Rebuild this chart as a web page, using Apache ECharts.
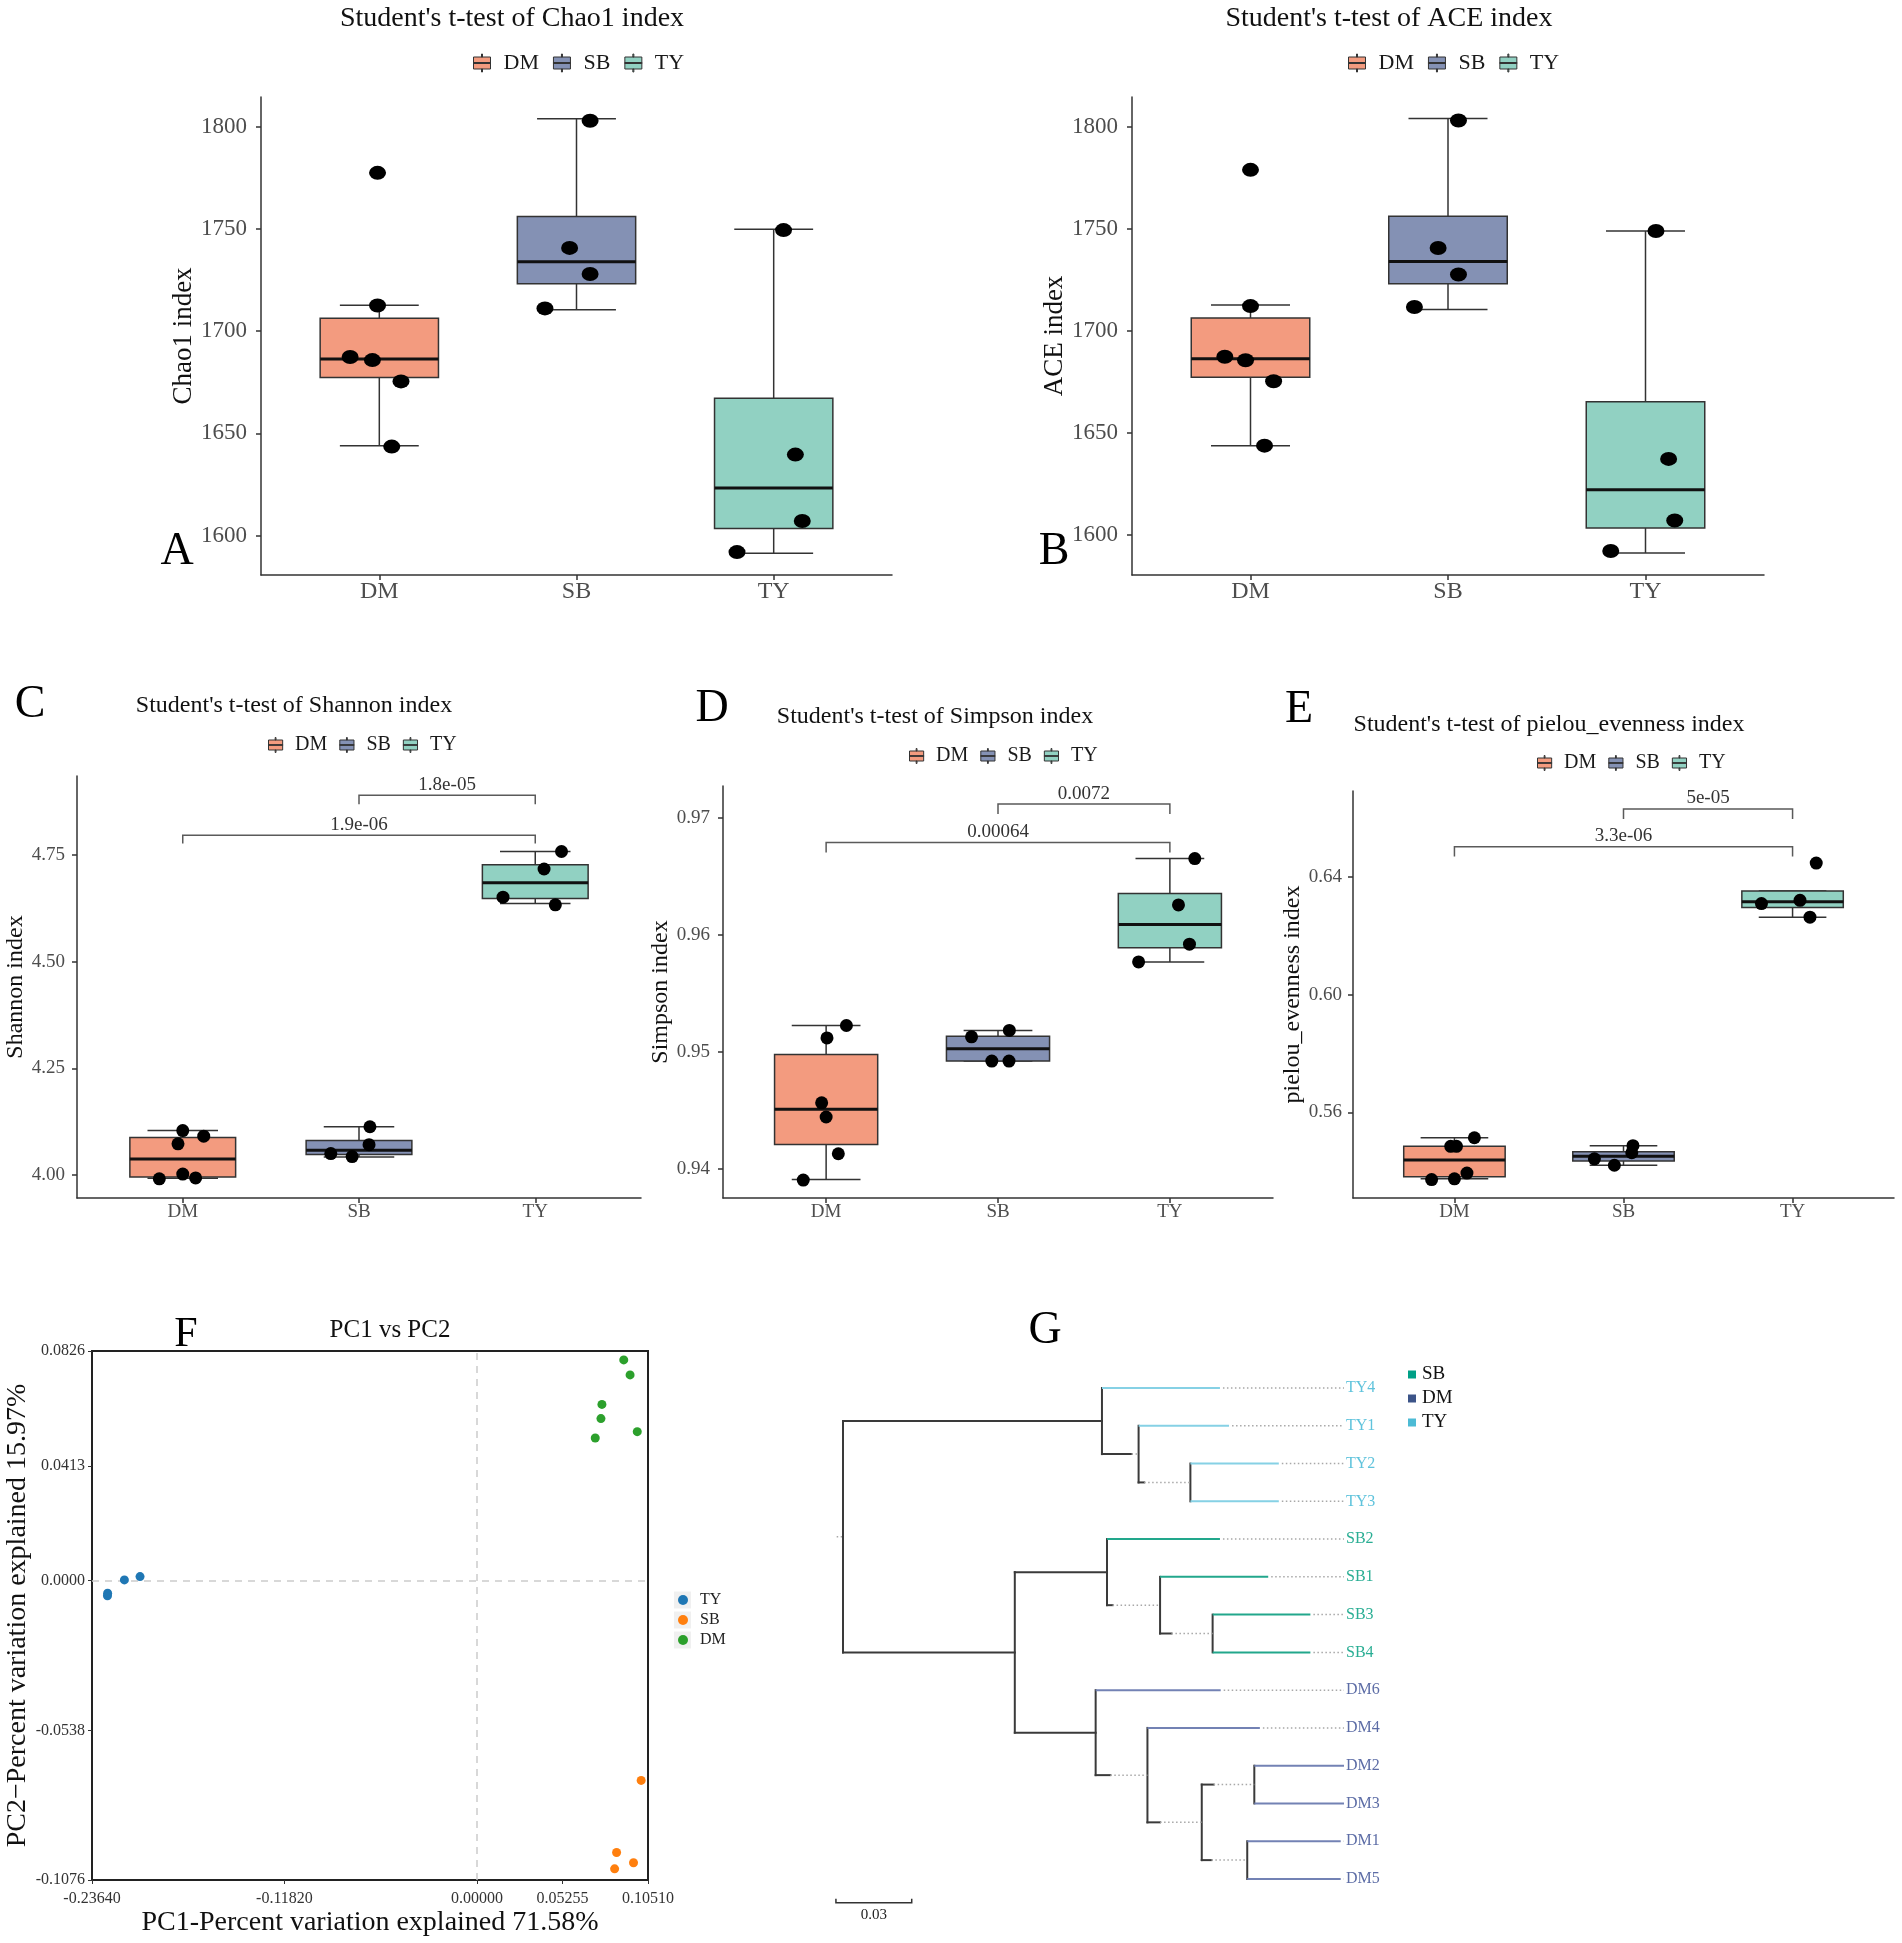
<!DOCTYPE html>
<html><head><meta charset="utf-8">
<script src="https://cdn.jsdelivr.net/npm/echarts@6/dist/echarts.min.js"></script>
<style>html,body{margin:0;padding:0;background:#fff}#chart{width:1902px;height:1943px}</style>
</head><body><div id="chart"></div>
<script>
// ---------------- DATA ----------------
const groups = ['DM', 'SB', 'TY'];
const boxColors = ['#F39B7F', '#8491B4', '#91D1C2'];

// A: Chao1  (box = [lowWhisker, Q1, median, Q3, highWhisker])
const chao1Boxes = [[1643.9, 1677.3, 1686.4, 1706.3, 1712.7], [1710.5, 1723.1, 1733.9, 1756.1, 1803.9], [1591.3, 1603.5, 1623.2, 1667.1, 1749.8]];
const chao1Points = [[1777.4, 1712.5, 1687.3, 1685.8, 1675.4, 1643.5], [1802.9, 1740.7, 1727.9, 1711.1], [1749.4, 1639.6, 1607.1, 1591.9]];
const chao1Jitter = [[-0.009, -0.009, -0.148, -0.035, 0.11, 0.063], [0.069, -0.035, 0.069, -0.16], [0.05, 0.11, 0.145, -0.186]];
const chao1Ticks = [1600, 1650, 1700, 1750, 1800];

// B: ACE
const aceBoxes = [[1643.9, 1677.4, 1686.5, 1706.5, 1712.9], [1710.7, 1723.3, 1734.2, 1756.4, 1804.3], [1591.3, 1603.5, 1622.3, 1665.4, 1749.1]];
const acePoints = [[1779.1, 1712.3, 1687.5, 1685.8, 1675.5, 1643.9], [1803.3, 1740.8, 1727.8, 1711.9], [1749.1, 1637.4, 1607.2, 1592.3]];
const aceJitter = [[0, 0, -0.13, -0.025, 0.117, 0.071], [0.053, -0.05, 0.053, -0.17], [0.053, 0.117, 0.148, -0.176]];
const aceTicks = [1600, 1650, 1700, 1750, 1800];

// C: Shannon
const shannonBoxes = [[3.992, 3.995, 4.0375, 4.0876, 4.104], [4.042, 4.048, 4.058, 4.081, 4.113], [4.636, 4.648, 4.685, 4.727, 4.758]];
const shannonPoints = [[4.104, 4.073, 4.091, 3.991, 4.002, 3.993], [4.113, 4.071, 4.050, 4.043], [4.758, 4.717, 4.651, 4.633]];
const shannonJitter = [[0, -0.027, 0.119, -0.133, 0, 0.073], [0.062, 0.057, -0.16, -0.039], [0.149, 0.05, -0.183, 0.114]];
const shannonTicks = [4.00, 4.25, 4.50, 4.75];
const shannonBrackets = [[2, 3, 4.890, 4.869], [1, 3, 4.796, 4.777]];
const shannonPvals = ['1.8e-05', '1.9e-06'];

// D: Simpson
const simpsonBoxes = [[0.93909, 0.94207, 0.94509, 0.94975, 0.95224], [0.9492, 0.9492, 0.95026, 0.95133, 0.95182], [0.95767, 0.95888, 0.96086, 0.96351, 0.9665]];
const simpsonPoints = [[0.95224, 0.95118, 0.94563, 0.94442, 0.94128, 0.93903], [0.95182, 0.95127, 0.9492, 0.9492], [0.9665, 0.96254, 0.95919, 0.95767]];
const simpsonJitter = [[0.118, 0.005, -0.026, 0, 0.071, -0.133], [0.066, -0.154, -0.036, 0.064], [0.145, 0.05, 0.114, -0.182]];
const simpsonTicks = [0.94, 0.95, 0.96, 0.97];
const simpsonBrackets = [[2, 3, 0.97116, 0.9703], [1, 3, 0.96787, 0.96702]];
const simpsonPvals = ['0.0072', '0.00064'];

// E: pielou evenness
const pielouBoxes = [[0.53742, 0.53815, 0.54385, 0.54847, 0.55138], [0.54203, 0.54349, 0.54507, 0.54665, 0.54871], [0.62641, 0.62969, 0.63163, 0.63527, 0.63527]];
const pielouPoints = [[0.55138, 0.54847, 0.54847, 0.53936, 0.53718, 0.53742], [0.54871, 0.54628, 0.54422, 0.54203], [0.6448, 0.63212, 0.63103, 0.62641]];
const pielouJitter = [[0.118, -0.022, 0.012, 0.074, -0.135, 0], [0.056, 0.049, -0.172, -0.054], [0.14, 0.044, -0.184, 0.103]];
const pielouTicks = [0.56, 0.60, 0.64];
const pielouBrackets = [[2, 3, 0.6632, 0.6598], [1, 3, 0.6503, 0.647]];
const pielouPvals = ['5e-05', '3.3e-06'];

// F: PCA
const pcaGroups = ['TY', 'SB', 'DM'];
const pcaColors = ['#1f77b4', '#ff7f0e', '#2ca02c'];
const pcaTY = [[-0.2269, -0.0054], [-0.2268, -0.0045], [-0.2165, 0.0003], [-0.2069, 0.0015]];
const pcaSB = [[0.1009, -0.0718], [0.0858, -0.0977], [0.0962, -0.1014], [0.0846, -0.1036]];
const pcaDM = [[0.0902, 0.0794], [0.0941, 0.0740], [0.0768, 0.0634], [0.0762, 0.0583], [0.0985, 0.0536], [0.0727, 0.0513]];
const pcaXTicks = [-0.2364, -0.1182, 0, 0.05255, 0.1051];
const pcaXLabels = ['-0.23640', '-0.11820', '0.00000', '0.05255', '0.10510'];
const pcaYTicks = [-0.1076, -0.0538, 0, 0.0413, 0.0826];
const pcaYLabels = ['-0.1076', '-0.0538', '0.0000', '0.0413', '0.0826'];

// G: clustering tree
const leafOrder = ['TY4', 'TY1', 'TY2', 'TY3', 'SB2', 'SB1', 'SB3', 'SB4', 'DM6', 'DM4', 'DM2', 'DM3', 'DM1', 'DM5'];
const treeNodes = ['root', 'n1', 'TY4', 'n2', 'TY1', 'n3', 'TY2', 'TY3', 'n4', 'n5', 'SB2', 'n6', 'SB1', 'n7', 'SB3', 'SB4', 'n8', 'DM6', 'n9', 'DM4', 'n10', 'n11', 'DM2', 'DM3', 'n12', 'DM1', 'DM5'];
const treeParents = [-1, 0, 1, 1, 3, 3, 5, 5, 0, 8, 9, 9, 11, 11, 13, 13, 8, 16, 16, 18, 18, 20, 21, 21, 20, 24, 24];
const treeDepths = [0, 0.1025, 0.1492, 0.117, 0.1528, 0.1375, 0.1725, 0.1725, 0.068, 0.1045, 0.1492, 0.1255, 0.1683, 0.1463, 0.185, 0.185, 0.1, 0.1495, 0.1205, 0.165, 0.142, 0.1628, 0.1983, 0.1983, 0.16, 0.197, 0.197];
const treeSolidEnds = [null, null, null, 0.1142, null, 0.1192, null, null, null, null, null, 0.1067, null, 0.13, null, null, null, null, 0.1058, null, 0.1255, 0.1467, null, null, 0.1458, null, null];
const treeLabelX = 0.1983;
const treeRootStub = -0.0025;
const scaleBarLength = 0.03;
const treeGroups = ['SB', 'DM', 'TY'];
const treeLegendColors = ['#00A087', '#3C5488', '#4DBBD5'];
const treeBranchColors = ['#22a78c', '#7382b4', '#86d1e5'];
const treeLabelColors = ['#2aae94', '#5d6da6', '#5fc3dc'];

// ---------------- LAYOUT / RENDER ----------------
const FONT = '"Liberation Serif", "Times New Roman", serif';
const option = {
  backgroundColor: '#ffffff', animation: false,
  textStyle: { fontFamily: FONT },
  grid: [], xAxis: [], yAxis: [], series: [], legend: [],
  graphic: { elements: [] }
};
const G = option.graphic.elements;
function addText(text, x, y, size, color, align) {
  G.push({ type: 'text', x: x, y: y, silent: true,
    style: { text: text, font: size + 'px ' + FONT, fill: color || '#111', align: align || 'center', verticalAlign: 'middle' } });
}

function boxRender(params, api) {
  const x = api.value(0);
  const c = v => api.coord([x, v]);
  const lo = c(api.value(1)), q1 = c(api.value(2)), md = c(api.value(3)), q3 = c(api.value(4)), hi = c(api.value(5));
  const hw = api.size([0.3, 0])[0], cw = api.size([0.2, 0])[0];
  const color = api.visual('color');
  const ls = () => ({ stroke: '#333', lineWidth: 1.5 });
  return { type: 'group', children: [
    { type: 'line', shape: { x1: lo[0], y1: lo[1], x2: q1[0], y2: q1[1] }, style: ls() },
    { type: 'line', shape: { x1: q3[0], y1: q3[1], x2: hi[0], y2: hi[1] }, style: ls() },
    { type: 'line', shape: { x1: lo[0] - cw, y1: lo[1], x2: lo[0] + cw, y2: lo[1] }, style: ls() },
    { type: 'line', shape: { x1: hi[0] - cw, y1: hi[1], x2: hi[0] + cw, y2: hi[1] }, style: ls() },
    { type: 'rect', shape: { x: q3[0] - hw, y: q3[1], width: 2 * hw, height: q1[1] - q3[1] }, style: { fill: color, stroke: '#333', lineWidth: 1.5 } },
    { type: 'line', shape: { x1: md[0] - hw, y1: md[1], x2: md[0] + hw, y2: md[1] }, style: { stroke: '#111', lineWidth: 3 } }
  ] };
}
function bracketRender(labels, fontSize) {
  return function (params, api) {
    const x1 = api.value(0), x2 = api.value(1), y = api.value(2), t = api.value(3);
    const a = api.coord([x1, t]), b = api.coord([x1, y]), c = api.coord([x2, y]), d = api.coord([x2, t]);
    return { type: 'group', children: [
      { type: 'polyline', shape: { points: [a, b, c, d] }, style: { stroke: '#5a5a5a', lineWidth: 1.5, fill: null } },
      { type: 'text', x: (b[0] + c[0]) / 2, y: b[1] - 1, style: { text: labels[params.dataIndex], fill: '#333', font: fontSize + 'px ' + FONT, align: 'center', verticalAlign: 'bottom' } }
    ] };
  };
}

const legendBoxIcon = 'path://M8,0h1v3h-1z M0,3h17v12h-17z M0,8.5h17v1h-17z M8,15h1v3h-1z';
const boxPanels = [
  { key: 'A', title: "Student's t-test of Chao1 index", yName: 'Chao1 index', boxes: chao1Boxes, pts: chao1Points, jit: chao1Jitter, ticks: chao1Ticks, dec: 0,
    grid: { left: 261, top: 97, width: 631, height: 478 }, yMin: 1580.7, yMax: 1814.5, titleXY: [512, 19], titleSize: 28, letterXY: [177, 552],
    legendLT: [473, 52], legendFont: 22, legendIcon: [17, 18], legendPad: 8, legendGap: 14,
    tickFont: 23, xFont: 24, nameSize: 27, nameGap: 61, yLabelMargin: 14, xLabelMargin: 5, ptSize: [17, 14] },
  { key: 'B', title: "Student's t-test of ACE index", yName: 'ACE index', boxes: aceBoxes, pts: acePoints, jit: aceJitter, ticks: aceTicks, dec: 0,
    grid: { left: 1132, top: 97, width: 632, height: 478 }, yMin: 1580.5, yMax: 1814.8, titleXY: [1389, 19], titleSize: 28, letterXY: [1054, 552],
    legendLT: [1348, 52], legendFont: 22, legendIcon: [17, 18], legendPad: 8, legendGap: 14,
    tickFont: 23, xFont: 24, nameSize: 27, nameGap: 60, yLabelMargin: 14, xLabelMargin: 5, ptSize: [17, 14] },
  { key: 'C', title: "Student's t-test of Shannon index", yName: 'Shannon index', boxes: shannonBoxes, pts: shannonPoints, jit: shannonJitter, ticks: shannonTicks, dec: 2,
    grid: { left: 77, top: 776, width: 564, height: 422 }, yMin: 3.946, yMax: 4.935, titleXY: [294, 706], titleSize: 24, letterXY: [30, 705],
    legendLT: [268, 735], legendFont: 20, legendIcon: [17, 15], legendPad: 6, legendGap: 12,
    tickFont: 19, xFont: 19, nameSize: 24, nameGap: 46, yLabelMargin: 12, xLabelMargin: 5, ptSize: [13, 13], brackets: shannonBrackets, pvals: shannonPvals },
  { key: 'D', title: "Student's t-test of Simpson index", yName: 'Simpson index', boxes: simpsonBoxes, pts: simpsonPoints, jit: simpsonJitter, ticks: simpsonTicks, dec: 2,
    grid: { left: 723, top: 786, width: 550, height: 412 }, yMin: 0.9375, yMax: 0.9727, titleXY: [935, 717], titleSize: 24, letterXY: [712, 709],
    legendLT: [909, 746], legendFont: 20, legendIcon: [17, 15], legendPad: 6, legendGap: 12,
    tickFont: 19, xFont: 19, nameSize: 24, nameGap: 47, yLabelMargin: 13, xLabelMargin: 5, ptSize: [13, 13], brackets: simpsonBrackets, pvals: simpsonPvals },
  { key: 'E', title: "Student's t-test of pielou_evenness index", yName: 'pielou_evenness index', boxes: pielouBoxes, pts: pielouPoints, jit: pielouJitter, ticks: pielouTicks, dec: 2,
    grid: { left: 1353, top: 791, width: 541, height: 407 }, yMin: 0.5309, yMax: 0.6693, titleXY: [1549, 725], titleSize: 24, letterXY: [1299, 710],
    legendLT: [1537, 753], legendFont: 20, legendIcon: [17, 15], legendPad: 6, legendGap: 12,
    tickFont: 19, xFont: 19, nameSize: 24, nameGap: 43, yLabelMargin: 11, xLabelMargin: 5, ptSize: [13, 13], brackets: pielouBrackets, pvals: pielouPvals }
];

boxPanels.forEach((p, gi) => {
  option.grid.push(Object.assign({}, p.grid));
  option.xAxis.push({ gridIndex: gi, type: 'value', min: 0.4, max: 3.6, splitLine: { show: false },
    axisLine: { show: true, onZero: false, lineStyle: { color: '#333', width: 1.5 } },
    axisTick: { show: true, length: 5, customValues: [1, 2, 3], lineStyle: { color: '#333', width: 1.5 } },
    axisLabel: { customValues: [1, 2, 3], formatter: v => groups[Math.round(v) - 1], fontSize: p.xFont, color: '#4d4d4d', margin: p.xLabelMargin, fontFamily: FONT } });
  option.yAxis.push({ gridIndex: gi, type: 'value', min: p.yMin, max: p.yMax, splitLine: { show: false },
    axisLine: { show: true, onZero: false, lineStyle: { color: '#333', width: 1.5 } },
    axisTick: { show: true, length: 5, customValues: p.ticks, lineStyle: { color: '#333', width: 1.5 } },
    axisLabel: { customValues: p.ticks, formatter: v => v.toFixed(p.dec), fontSize: p.tickFont, color: '#4d4d4d', margin: p.yLabelMargin, fontFamily: FONT },
    name: p.yName, nameLocation: 'middle', nameRotate: 90, nameGap: p.nameGap,
    nameTextStyle: { fontSize: p.nameSize, color: '#111', fontFamily: FONT } });
  groups.forEach((g, k) => {
    option.series.push({ type: 'custom', name: p.key + ':' + g, xAxisIndex: gi, yAxisIndex: gi,
      itemStyle: { color: boxColors[k] }, data: [[k + 1].concat(p.boxes[k])], renderItem: boxRender, z: 2, silent: true });
  });
  const pts = [];
  p.pts.forEach((arr, k) => arr.forEach((v, j) => pts.push([k + 1 + p.jit[k][j], v])));
  option.series.push({ type: 'scatter', xAxisIndex: gi, yAxisIndex: gi, data: pts, symbol: 'circle', symbolSize: p.ptSize,
    itemStyle: { color: '#000', opacity: 1 }, z: 5, silent: true });
  if (p.brackets) {
    option.series.push({ type: 'custom', xAxisIndex: gi, yAxisIndex: gi, data: p.brackets, renderItem: bracketRender(p.pvals, 19), z: 3, silent: true });
  }
  option.legend.push({ left: p.legendLT[0], top: p.legendLT[1], orient: 'horizontal', padding: 0, selectedMode: false,
    itemGap: p.legendGap, itemWidth: p.legendIcon[0], itemHeight: p.legendIcon[1], icon: legendBoxIcon,
    itemStyle: { borderColor: '#333', borderWidth: 1 },
    data: groups.map(g => p.key + ':' + g), formatter: n => n.split(':')[1],
    textStyle: { fontSize: p.legendFont, lineHeight: p.legendFont, fontFamily: FONT, color: '#1a1a1a', padding: [0, 0, 0, p.legendPad] } });
  addText(p.title, p.titleXY[0], p.titleXY[1], p.titleSize, '#111');
  addText(p.key, p.letterXY[0], p.letterXY[1], 46, '#000');
});

// ---------- Panel F: PCA ----------
const fi = option.grid.length;
option.grid.push({ left: 92, top: 1351, width: 556, height: 529, show: true, borderColor: '#222', borderWidth: 2, backgroundColor: 'transparent' });
const tickLabel = (ticks, labels) => v => { const i = ticks.findIndex(t => Math.abs(t - v) < 1e-7); return i >= 0 ? labels[i] : ''; };
option.xAxis.push({ gridIndex: fi, type: 'value', min: -0.2364, max: 0.1051, splitLine: { show: false },
  axisLine: { show: true, onZero: false, lineStyle: { color: '#222', width: 2 } },
  axisTick: { show: true, length: 4, customValues: pcaXTicks, lineStyle: { color: '#333' } },
  axisLabel: { customValues: pcaXTicks, formatter: tickLabel(pcaXTicks, pcaXLabels), fontSize: 16, color: '#333', margin: 11, showMinLabel: true, showMaxLabel: true, fontFamily: FONT },
  name: 'PC1-Percent variation explained 71.58%', nameLocation: 'middle', nameGap: 29,
  nameTextStyle: { fontSize: 28, color: '#111', fontFamily: FONT } });
option.yAxis.push({ gridIndex: fi, type: 'value', min: -0.1076, max: 0.0826, splitLine: { show: false },
  axisLine: { show: true, onZero: false, lineStyle: { color: '#222', width: 2 } },
  axisTick: { show: true, length: 4, customValues: pcaYTicks, lineStyle: { color: '#333' } },
  axisLabel: { customValues: pcaYTicks, formatter: tickLabel(pcaYTicks, pcaYLabels), fontSize: 16, color: '#333', margin: 7, showMinLabel: true, showMaxLabel: true, fontFamily: FONT },
  name: 'PC2\u2212Percent variation explained 15.97%', nameLocation: 'middle', nameRotate: 90, nameGap: 59,
  nameTextStyle: { fontSize: 28, color: '#111', fontFamily: FONT } });
[pcaTY, pcaSB, pcaDM].forEach((d, k) => {
  const s = { type: 'scatter', name: 'F:' + pcaGroups[k], xAxisIndex: fi, yAxisIndex: fi, data: d, symbolSize: 9,
    itemStyle: { color: pcaColors[k], opacity: 1 }, z: 5, silent: true };
  if (k === 0) {
    s.markLine = { silent: true, symbol: 'none', label: { show: false },
      lineStyle: { color: '#cccccc', width: 1.5, type: [7, 6] }, data: [{ xAxis: 0 }, { yAxis: 0 }] };
  }
  option.series.push(s);
});
[1600, 1620, 1640].forEach(cy => G.push({ type: 'rect', shape: { x: 674, y: cy - 8.5, width: 17, height: 17 }, style: { fill: '#f0f0f0' }, silent: true, z: -1 }));
option.legend.push({ left: 678, top: 1592, orient: 'vertical', padding: 0, selectedMode: false, itemGap: 4,
  itemWidth: 10, itemHeight: 10, icon: 'circle', data: pcaGroups.map(g => 'F:' + g), formatter: n => n.split(':')[1],
  textStyle: { fontSize: 16, lineHeight: 16, fontFamily: FONT, color: '#222', padding: [0, 0, 0, 7] } });
addText('PC1 vs PC2', 390, 1330, 25, '#111');
addText('F', 186, 1335, 42, '#000');

// ---------- Panel G: tree ----------
const ti = option.grid.length;
option.grid.push({ left: 843, top: 1388, width: 501, height: 491 });
option.xAxis.push({ gridIndex: ti, type: 'value', min: 0, max: treeLabelX, show: false });
option.yAxis.push({ gridIndex: ti, type: 'value', min: 0, max: leafOrder.length - 1, inverse: true, show: false });
const nN = treeNodes.length;
const children = treeNodes.map(() => []);
treeParents.forEach((p, i) => { if (p >= 0) children[p].push(i); });
const nodeY = new Array(nN);
function calcY(i) {
  if (!children[i].length) return (nodeY[i] = leafOrder.indexOf(treeNodes[i]));
  const ys = children[i].map(calcY);
  return (nodeY[i] = (Math.min(...ys) + Math.max(...ys)) / 2);
}
calcY(0);
const treeSegs = [[treeRootStub, nodeY[0], 0, nodeY[0], 1]];
const leafSegs = treeGroups.map(() => []);
for (let i = 0; i < nN; i++) {
  const p = treeParents[i];
  if (children[i].length) {
    const ys = children[i].map(c => nodeY[c]);
    treeSegs.push([treeDepths[i], Math.min(...ys), treeDepths[i], Math.max(...ys), 0]);
    if (p >= 0) {
      const se = treeSolidEnds[i];
      if (se == null) treeSegs.push([treeDepths[p], nodeY[i], treeDepths[i], nodeY[i], 0]);
      else {
        treeSegs.push([treeDepths[p], nodeY[i], se, nodeY[i], 0]);
        treeSegs.push([se, nodeY[i], treeDepths[i], nodeY[i], 1]);
      }
    }
  } else {
    const gk = treeGroups.indexOf(treeNodes[i].slice(0, 2));
    leafSegs[gk].push([treeDepths[p], nodeY[i], treeDepths[i], nodeY[i]]);
  }
}
option.series.push({ type: 'custom', name: 'G:tree', xAxisIndex: ti, yAxisIndex: ti, data: treeSegs, silent: true, z: 2,
  renderItem: (params, api) => {
    const a = api.coord([api.value(0), api.value(1)]), b = api.coord([api.value(2), api.value(3)]);
    const dotted = api.value(4) === 1;
    return { type: 'line', shape: { x1: a[0], y1: a[1], x2: b[0], y2: b[1] },
      style: dotted ? { stroke: '#a8a8a8', lineWidth: 1.5, lineDash: [1.5, 2.5] } : { stroke: '#3a3a3a', lineWidth: 2, lineCap: 'square' } };
  } });
treeGroups.forEach((g, k) => {
  option.series.push({ type: 'custom', name: 'G:' + g, xAxisIndex: ti, yAxisIndex: ti, data: leafSegs[k], silent: true, z: 3,
    itemStyle: { color: treeLegendColors[k] },
    renderItem: (params, api) => {
      const y = api.value(1);
      const a = api.coord([api.value(0), y]), b = api.coord([api.value(2), y]), c = api.coord([treeLabelX, y]);
      const ch = [{ type: 'line', shape: { x1: a[0], y1: a[1], x2: b[0], y2: b[1] }, style: { stroke: treeBranchColors[k], lineWidth: 2 } }];
      if (c[0] - b[0] > 2) ch.push({ type: 'line', shape: { x1: b[0] + 3, y1: b[1], x2: c[0], y2: c[1] }, style: { stroke: '#a8a8a8', lineWidth: 1.5, lineDash: [1.5, 2.5] } });
      ch.push({ type: 'text', x: c[0] + 2, y: c[1], style: { text: leafOrder[Math.round(api.value(3))], fill: treeLabelColors[k], font: '16px ' + FONT, align: 'left', verticalAlign: 'middle' } });
      return { type: 'group', children: ch };
    } });
});
// scale bar
const scaleX0 = -0.0028, scaleYIdx = 13.63;
option.series.push({ type: 'custom', name: 'G:scale', xAxisIndex: ti, yAxisIndex: ti, data: [[scaleBarLength]], silent: true,
  renderItem: (params, api) => {
    const len = api.value(0);
    const a = api.coord([scaleX0, scaleYIdx]), b = api.coord([scaleX0 + len, scaleYIdx]);
    return { type: 'group', children: [
      { type: 'polyline', shape: { points: [[a[0], a[1] - 4], a, b, [b[0], b[1] - 4]] }, style: { stroke: '#333', lineWidth: 1.5, fill: null } },
      { type: 'text', x: (a[0] + b[0]) / 2, y: a[1] + 12, style: { text: String(len), fill: '#222', font: '15px ' + FONT, align: 'center', verticalAlign: 'middle' } }
    ] };
  } });
option.legend.push({ left: 1408, top: 1365, orient: 'vertical', padding: 0, selectedMode: false, itemGap: 5,
  itemWidth: 8, itemHeight: 8, icon: 'rect', data: treeGroups.map(g => 'G:' + g), formatter: n => n.split(':')[1],
  textStyle: { fontSize: 19, lineHeight: 18, fontFamily: FONT, color: '#111', padding: [0, 0, 0, 1] } });
addText('G', 1045, 1331, 46, '#000');

const chart = echarts.init(document.getElementById('chart'), null, { renderer: 'canvas', width: 1902, height: 1943 });
chart.setOption(option);
</script>
</body></html>
